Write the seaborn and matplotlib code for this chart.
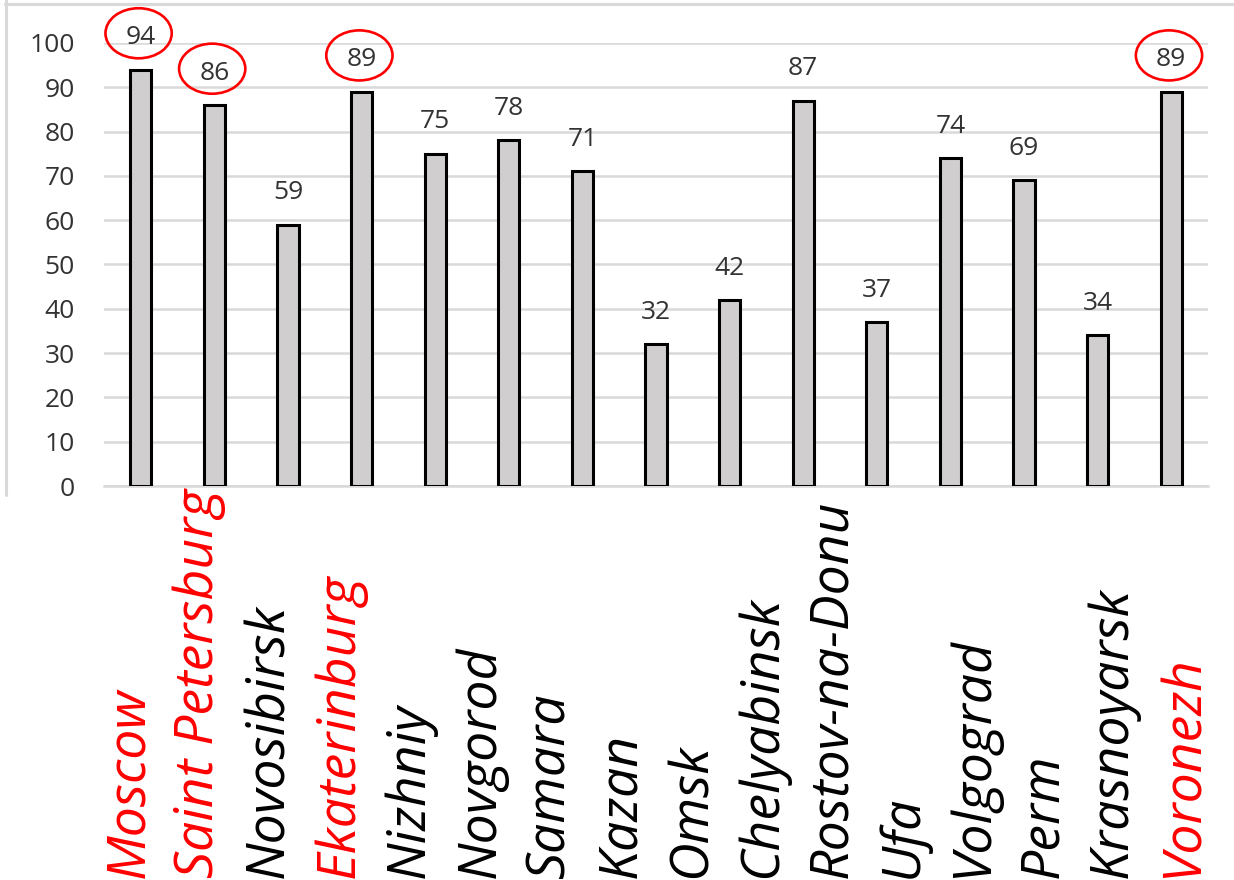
import pandas as pd
import matplotlib
matplotlib.use('Agg')
from matplotlib import pyplot as plt
from matplotlib.lines import Line2D
from matplotlib.patches import Ellipse
import seaborn as sns

# bars (Nizhniy Novgorod is one city, its label is split on two lines)
cities = ['Moscow', 'Saint Petersburg', 'Novosibirsk', 'Ekaterinburg', 'Nizhniy Novgorod',
          'Samara', 'Kazan', 'Omsk', 'Chelyabinsk', 'Rostov-na-Donu', 'Ufa',
          'Volgograd', 'Perm', 'Krasnoyarsk', 'Voronezh']
values = [94, 86, 59, 89, 75, 78, 71, 32, 42, 87, 37, 74, 69, 34, 89]
circled = ['Moscow', 'Saint Petersburg', 'Ekaterinburg', 'Voronezh']

# text lines under the chart, as they appear
label_lines = ['Moscow', 'Saint Petersburg', 'Novosibirsk', 'Ekaterinburg', 'Nizhniy',
               'Novgorod', 'Samara', 'Kazan', 'Omsk', 'Chelyabinsk', 'Rostov-na-Donu',
               'Ufa', 'Volgograd', 'Perm', 'Krasnoyarsk', 'Voronezh']
red_lines = ['Moscow', 'Saint Petersburg', 'Ekaterinburg', 'Voronezh']
yticks = list(range(0, 101, 10))

df = pd.DataFrame({'city': cities, 'value': values})

sns.set_style('white')
plt.rcParams['font.family'] = ['Open Sans', 'DejaVu Sans']

W, H = 1234, 880
fig = plt.figure(figsize=(W / 100, H / 100), dpi=100)
ax = fig.add_axes([104 / W, 1 - 486 / H, 1104 / W, 443 / H])

sns.barplot(data=df, x='city', y='value', color='#d0cece', edgecolor='black',
            linewidth=2.2, width=0.29, saturation=1, ax=ax, zorder=3)

ax.set_ylim(0, 100)
ax.set_xlim(-0.5, len(cities) - 0.5)
ax.set_yticks(yticks)
ax.set_yticklabels([str(t) for t in yticks], fontsize=19, color='#333333')
ax.tick_params(axis='y', length=0, pad=21)
ax.tick_params(axis='x', length=0, labelbottom=False)
ax.set_xlabel('')
ax.set_ylabel('')
ax.yaxis.grid(True, color='#d9d9d9', linewidth=1.8, zorder=0)
ax.set_axisbelow(True)
for s in ['top', 'right', 'left']:
    ax.spines[s].set_visible(False)
ax.spines['bottom'].set_color('#d9d9d9')
ax.spines['bottom'].set_linewidth(1.8)
ax.spines['bottom'].set_zorder(1)

for i, (c, v) in enumerate(zip(cities, values)):
    ax.text(i, v + 7.2, str(v), ha='center', va='center', fontsize=19,
            color='#333333', clip_on=False)
    if c in circled:
        ax.add_patch(Ellipse((i - 0.03, v + 8.2), 0.9, 11.3, fill=False,
                             edgecolor='red', linewidth=1.9, clip_on=False))

# chart frame, cropped at left and top
frame = '#d9d9d9'
fig.add_artist(Line2D([6 / W, 6 / W], [1, 1 - 495 / H], color=frame, lw=2.2))
fig.add_artist(Line2D([5 / W, 1], [1 - 4 / H, 1 - 4 / H], color=frame, lw=2.2))

# rotated category labels
for i, txt in enumerate(label_lines):
    x = (143 + 70.3 * i) / W
    fig.text(x, 2 / H, txt, rotation=90, rotation_mode='anchor', ha='left',
             va='baseline', fontsize=38.5, style='italic',
             color='red' if txt in red_lines else 'black')

fig.savefig('out.png', dpi=100)
